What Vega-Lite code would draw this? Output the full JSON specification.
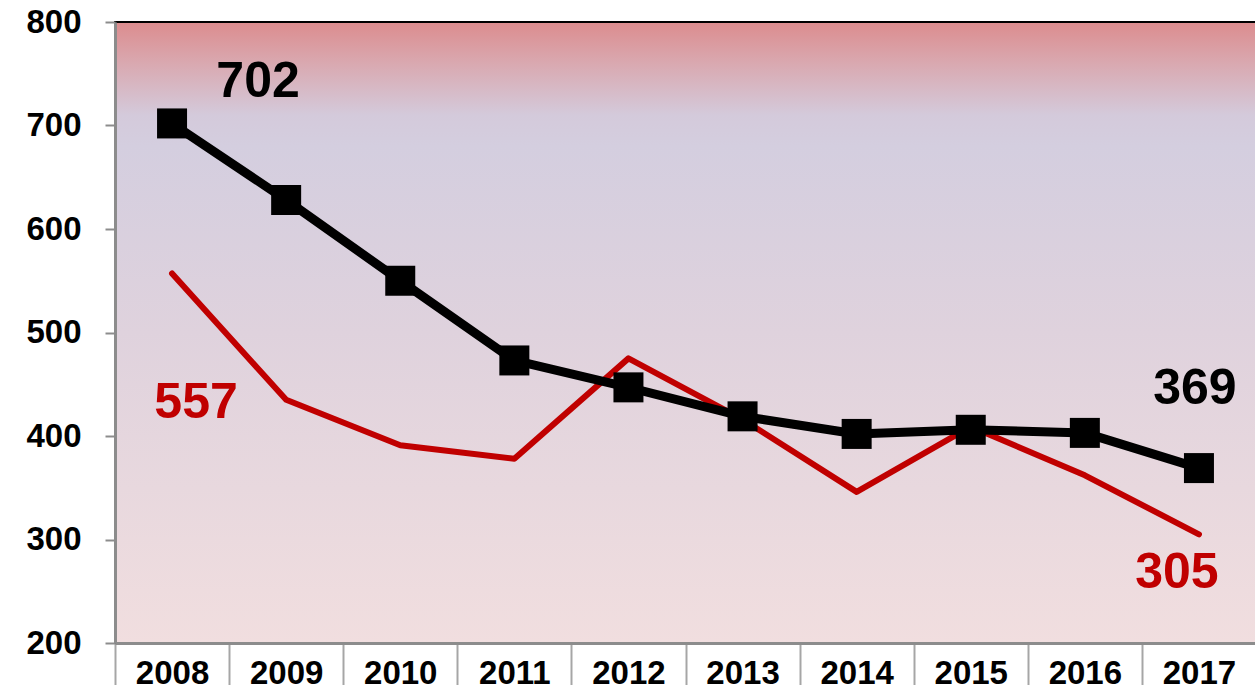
{
  "$schema": "https://vega.github.io/schema/vega-lite/v6.json",
  "width": 1141,
  "height": 621,
  "autosize": "none",
  "padding": {"left": 115, "top": 22, "right": 0, "bottom": 42},
  "background": "white",
  "config": {
    "view": {
      "stroke": "black",
      "strokeWidth": 2,
      "fill": {
        "gradient": "linear",
        "x1": 0, "y1": 0, "x2": 0, "y2": 1,
        "stops": [
          {"offset": 0, "color": "#dc8c8e"},
          {"offset": 0.07, "color": "#d9aab2"},
          {"offset": 0.15, "color": "#d4cadb"},
          {"offset": 0.2, "color": "#d4cedf"},
          {"offset": 0.5, "color": "#dfd2dd"},
          {"offset": 1, "color": "#f1dedf"}
        ]
      }
    },
    "font": "Liberation Sans"
  },
  "data": {
    "values": [
      {"year": "2008", "series": "A", "value": 702},
      {"year": "2009", "series": "A", "value": 628},
      {"year": "2010", "series": "A", "value": 550},
      {"year": "2011", "series": "A", "value": 473},
      {"year": "2012", "series": "A", "value": 447},
      {"year": "2013", "series": "A", "value": 419},
      {"year": "2014", "series": "A", "value": 402},
      {"year": "2015", "series": "A", "value": 406},
      {"year": "2016", "series": "A", "value": 403},
      {"year": "2017", "series": "A", "value": 369},
      {"year": "2008", "series": "B", "value": 557},
      {"year": "2009", "series": "B", "value": 435},
      {"year": "2010", "series": "B", "value": 391},
      {"year": "2011", "series": "B", "value": 378},
      {"year": "2012", "series": "B", "value": 475},
      {"year": "2013", "series": "B", "value": 416},
      {"year": "2014", "series": "B", "value": 346},
      {"year": "2015", "series": "B", "value": 409},
      {"year": "2016", "series": "B", "value": 362},
      {"year": "2017", "series": "B", "value": 305}
    ]
  },
  "encoding": {
    "x": {
      "field": "year",
      "type": "ordinal",
      "scale": {"paddingInner": 0, "paddingOuter": 0},
      "axis": {
        "title": null,
        "labelAngle": 0,
        "tickBand": "extent",
        "tickSize": 45,
        "tickWidth": 2,
        "tickColor": "#a6a6a6",
        "domainColor": "#8c8c8c",
        "domainWidth": 3,
        "labelPadding": -31,
        "labelFontSize": 33,
        "labelFontWeight": "bold",
        "labelColor": "black",
        "labelBaseline": "top"
      }
    },
    "y": {
      "field": "value",
      "type": "quantitative",
      "scale": {"domain": [200, 800], "nice": false, "zero": false},
      "axis": {
        "title": null,
        "values": [200, 300, 400, 500, 600, 700, 800],
        "grid": false,
        "tickSize": 10,
        "tickWidth": 2,
        "tickColor": "#8c8c8c",
        "domainColor": "#8c8c8c",
        "domainWidth": 3,
        "labelPadding": 24,
        "labelFontSize": 33,
        "labelFontWeight": "bold",
        "labelColor": "black"
      }
    }
  },
  "layer": [
    {
      "transform": [{"filter": "datum.series === 'B'"}],
      "mark": {"type": "line", "color": "#c00000", "strokeWidth": 6, "strokeCap": "round", "strokeJoin": "round"},
      "encoding": {}
    },
    {
      "transform": [{"filter": "datum.series === 'A'"}],
      "mark": {"type": "line", "color": "black", "strokeWidth": 9, "strokeJoin": "round"},
      "encoding": {}
    },
    {
      "transform": [{"filter": "datum.series === 'A'"}],
      "mark": {"type": "point", "shape": "square", "filled": true, "color": "black", "opacity": 1, "size": 900},
      "encoding": {}
    },
    {
      "transform": [{"filter": "datum.series === 'A' && datum.year === '2008'"}],
      "mark": {"type": "text", "fontSize": 50, "fontWeight": "bold", "color": "black", "dx": 86, "dy": -41, "baseline": "middle"},
      "encoding": {"text": {"field": "value", "type": "quantitative"}}
    },
    {
      "transform": [{"filter": "datum.series === 'B' && datum.year === '2008'"}],
      "mark": {"type": "text", "fontSize": 50, "fontWeight": "bold", "color": "#c00000", "dx": 24, "dy": 129, "baseline": "middle"},
      "encoding": {"text": {"field": "value", "type": "quantitative"}}
    },
    {
      "transform": [{"filter": "datum.series === 'A' && datum.year === '2017'"}],
      "mark": {"type": "text", "fontSize": 50, "fontWeight": "bold", "color": "black", "dx": -4, "dy": -79, "baseline": "middle"},
      "encoding": {"text": {"field": "value", "type": "quantitative"}}
    },
    {
      "transform": [{"filter": "datum.series === 'B' && datum.year === '2017'"}],
      "mark": {"type": "text", "fontSize": 50, "fontWeight": "bold", "color": "#c00000", "dx": -22, "dy": 39, "baseline": "middle"},
      "encoding": {"text": {"field": "value", "type": "quantitative"}}
    }
  ]
}
